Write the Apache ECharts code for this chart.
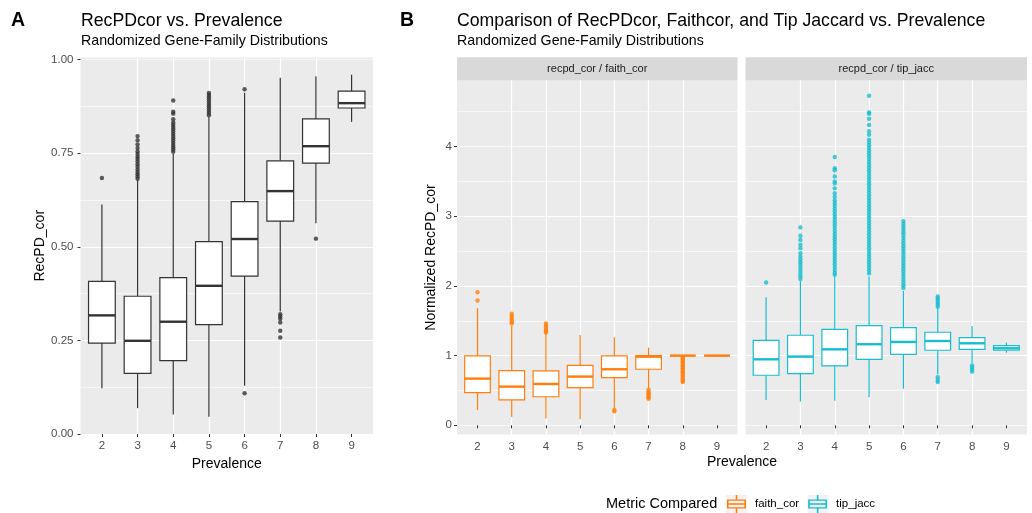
<!DOCTYPE html>
<html><head><meta charset="utf-8">
<script src="https://cdn.jsdelivr.net/npm/echarts@6/dist/echarts.min.js"></script>
<style>html,body{margin:0;padding:0;background:#fff}#c{width:1032px;height:513px}</style>
</head><body><div id="c"></div>
<script>
// ---------- data ----------
const prevalence = [2, 3, 4, 5, 6, 7, 8, 9];
const recpdTicks = [0, 0.25, 0.5, 0.75, 1];
const normTicks = [0, 1, 2, 3, 4];
// [lower whisker, Q1, median, Q3, upper whisker]
const recpdStats = [
  [0.122, 0.243, 0.317, 0.408, 0.613],
  [0.069, 0.162, 0.249, 0.368, 0.678],
  [0.052, 0.196, 0.300, 0.418, 0.749],
  [0.046, 0.292, 0.396, 0.514, 0.848],
  [0.129, 0.422, 0.521, 0.621, 0.912],
  [0.327, 0.569, 0.649, 0.730, 0.952],
  [0.563, 0.724, 0.769, 0.842, 0.956],
  [0.834, 0.871, 0.884, 0.916, 0.960]
];
const recpdOutliers = [
  [0.684],
  [0.796, 0.785, 0.774, 0.764, 0.755, 0.748, 0.741, 0.735, 0.728, 0.721, 0.714, 0.707, 0.700, 0.694, 0.688, 0.682],
  [0.891, 0.861, 0.856, 0.841, 0.832, 0.826, 0.820, 0.814, 0.808, 0.802, 0.796, 0.790, 0.784, 0.778, 0.772, 0.766, 0.760, 0.754],
  [0.911, 0.906, 0.900, 0.894, 0.888, 0.882, 0.876, 0.870, 0.864, 0.858, 0.852],
  [0.921, 0.109],
  [0.320, 0.314, 0.308, 0.298, 0.276, 0.258],
  [0.522],
  []
];
const faithStats = [
  [0.22, 0.469, 0.670, 0.995, 1.68],
  [0.12, 0.364, 0.555, 0.785, 1.43],
  [0.096, 0.41, 0.593, 0.78, 1.32],
  [0.086, 0.54, 0.699, 0.861, 1.297],
  [0.244, 0.684, 0.804, 0.995, 1.263],
  [0.53, 0.804, 0.985, 1.0, 1.115],
  [0.99, 1.0, 1.0, 1.0, 1.0],
  [1.0, 1.0, 1.0, 1.0, 1.0]
];
const faithOutliers = [
  [1.91, 1.79],
  [1.60, 1.57, 1.54, 1.51, 1.48, 1.46],
  [1.46, 1.43, 1.40, 1.37, 1.35, 1.33],
  [],
  [0.22, 0.20],
  [0.51, 0.48, 0.46, 0.44, 0.42, 0.40, 0.38],
  [0.98, 0.96, 0.94, 0.92, 0.90, 0.88, 0.86, 0.84, 0.82, 0.80, 0.78, 0.76, 0.74, 0.72, 0.69, 0.66, 0.64, 0.62],
  []
];
const tipStats = [
  [0.364, 0.718, 0.947, 1.22, 1.837],
  [0.34, 0.742, 0.986, 1.292, 2.07],
  [0.354, 0.852, 1.09, 1.378, 2.14],
  [0.402, 0.947, 1.163, 1.431, 2.14],
  [0.526, 1.019, 1.196, 1.402, 1.93],
  [0.73, 1.077, 1.21, 1.335, 1.68],
  [0.89, 1.091, 1.177, 1.258, 1.426],
  [1.043, 1.077, 1.105, 1.144, 1.187]
];
const tipOutliers = [
  [2.05],
  [2.84, 2.72, 2.66, 2.59, 2.54, 2.47, 2.42, 2.38, 2.34, 2.30, 2.26, 2.22, 2.18, 2.14, 2.10],
  [3.85, 3.69, 3.66, 3.57, 3.50, 3.47, 3.40, 3.33, 3.28, 3.23, 3.19, 3.15, 3.11, 3.07, 3.03, 2.99, 2.95, 2.91, 2.87, 2.83, 2.79, 2.75, 2.71, 2.67, 2.63, 2.59, 2.55, 2.51, 2.47, 2.43, 2.39, 2.35, 2.31, 2.27, 2.23, 2.19, 2.16],
  [4.73, 4.49, 4.47, 4.40, 4.31, 4.22, 4.17, 4.10, 4.06, 4.02, 3.98, 3.94, 3.90, 3.86, 3.82, 3.78, 3.74, 3.70, 3.66, 3.62, 3.58, 3.54, 3.50, 3.46, 3.42, 3.38, 3.34, 3.30, 3.26, 3.22, 3.18, 3.14, 3.10, 3.06, 3.02, 2.98, 2.94, 2.90, 2.86, 2.82, 2.78, 2.74, 2.70, 2.66, 2.62, 2.58, 2.54, 2.50, 2.46, 2.42, 2.38, 2.34, 2.30, 2.26, 2.22, 2.18],
  [2.93, 2.89, 2.85, 2.81, 2.77, 2.73, 2.69, 2.65, 2.61, 2.57, 2.53, 2.49, 2.45, 2.41, 2.37, 2.33, 2.29, 2.25, 2.21, 2.17, 2.13, 2.09, 2.05, 2.01, 1.97],
  [1.85, 1.82, 1.79, 1.76, 1.73, 1.70, 0.69, 0.65, 0.62],
  [0.86, 0.83, 0.80, 0.77],
  []
];

// ---------- styling ----------
const FONT = '"Liberation Sans", Arial, Helvetica, sans-serif';
const DARK = '#333333';
const ORANGE = '#FF7F0E';
const TEAL = '#17BECF';
const PANEL = '#EBEBEB';

function boxData(stats) { return prevalence.map((p, i) => [p].concat(stats[i])); }
function outData(outs) {
  const r = [];
  outs.forEach((vals, i) => vals.forEach(v => r.push([prevalence[i], v])));
  return r;
}
function boxRenderer(color, lw, boxW) {
  return function (params, api) {
    const x = api.value(0);
    const lo = api.coord([x, api.value(1)]);
    const q1 = api.coord([x, api.value(2)]);
    const md = api.coord([x, api.value(3)]);
    const q3 = api.coord([x, api.value(4)]);
    const hi = api.coord([x, api.value(5)]);
    const w = api.size([boxW, 0])[0];
    const cx = lo[0];
    return {
      type: 'group', children: [
        { type: 'line', shape: { x1: cx, y1: q1[1], x2: cx, y2: lo[1] }, style: { stroke: color, lineWidth: lw } },
        { type: 'line', shape: { x1: cx, y1: q3[1], x2: cx, y2: hi[1] }, style: { stroke: color, lineWidth: lw } },
        { type: 'rect', shape: { x: cx - w / 2, y: q3[1], width: w, height: q1[1] - q3[1] }, style: { fill: '#fff', stroke: color, lineWidth: lw } },
        { type: 'line', shape: { x1: cx - w / 2, y1: md[1], x2: cx + w / 2, y2: md[1] }, style: { stroke: color, lineWidth: lw * 2 } }
      ]
    };
  };
}

function xAxisCfg(gridIndex, name) {
  return {
    type: 'value', gridIndex: gridIndex, min: 1.4, max: 9.6, minInterval: 1, maxInterval: 1,
    name: name || '', nameLocation: 'middle', nameGap: 21,
    nameTextStyle: { fontFamily: FONT, fontSize: 14, color: '#000' },
    axisLine: { show: false },
    axisTick: { show: true, length: 3, customValues: prevalence, lineStyle: { color: DARK, width: 1 } },
    axisLabel: { customValues: prevalence, color: '#4D4D4D', fontFamily: FONT, fontSize: 11.5, margin: 6 },
    splitLine: { show: true, showMinLine: false, showMaxLine: false, lineStyle: { color: '#fff', width: 1.2 } }
  };
}
function yMajor(gridIndex, min, max, step, ticks, fmt, showLabels, name, nameGap, margin) {
  return {
    type: 'value', gridIndex: gridIndex, min: min, max: max, minInterval: step, maxInterval: step,
    position: 'left',
    name: name || '', nameLocation: 'middle', nameGap: nameGap || 30,
    nameTextStyle: { fontFamily: FONT, fontSize: 14, color: '#000' },
    axisLine: { show: false },
    axisTick: { show: showLabels, length: 3, customValues: ticks, lineStyle: { color: DARK, width: 1 } },
    axisLabel: { show: showLabels, customValues: ticks, formatter: fmt, color: '#4D4D4D', fontFamily: FONT, fontSize: 11.5, margin: margin || 6 },
    splitLine: { show: true, showMinLine: false, showMaxLine: false, lineStyle: { color: '#fff', width: 1.2 } }
  };
}
function yMinor(gridIndex, min, max, step) {
  return {
    type: 'value', gridIndex: gridIndex, min: min, max: max, minInterval: step, maxInterval: step,
    position: 'right',
    axisLine: { show: false }, axisTick: { show: false }, axisLabel: { show: false },
    splitLine: { show: true, showMinLine: false, showMaxLine: false, lineStyle: { color: '#fff', width: 0.6 } }
  };
}

const boxIcon = 'path://M1,5L19,5L19,15L1,15Z M2.5,6.5L2.5,13.5L17.5,13.5L17.5,6.5Z M2.5,9.2L17.5,9.2L17.5,10.8L2.5,10.8Z M9.25,0L10.75,0L10.75,5L9.25,5Z M9.25,15L10.75,15L10.75,20L9.25,20Z';

function txt(text, x, y, size, opts) {
  opts = opts || {};
  return {
    type: 'text', x: x, y: y, silent: true,
    style: {
      text: text, fill: opts.color || '#000',
      font: (opts.bold ? 'bold ' : '') + size + 'px ' + FONT,
      align: opts.align || 'left', verticalAlign: 'middle',
      textAlign: opts.align || 'left', textVerticalAlign: 'middle'
    }
  };
}

const chart = echarts.init(document.getElementById('c'), null, { renderer: 'canvas' });
chart.setOption({
  animation: false,
  backgroundColor: '#fff',
  grid: [
    { left: 80.5, top: 57.5, width: 292.5, height: 376.5, show: true, backgroundColor: PANEL, borderWidth: 0 },
    { left: 457, top: 80.5, width: 280.5, height: 354, show: true, backgroundColor: PANEL, borderWidth: 0 },
    { left: 745.5, top: 80.5, width: 281.5, height: 354, show: true, backgroundColor: PANEL, borderWidth: 0 }
  ],
  xAxis: [xAxisCfg(0, 'Prevalence'), xAxisCfg(1), xAxisCfg(2)],
  yAxis: [
    yMajor(0, 0, 1.006, 0.25, recpdTicks, v => v.toFixed(2), true, 'RecPD_cor', 33, 7),
    yMinor(0, 0, 1.006, 0.125),
    yMajor(1, -0.132, 4.948, 1, normTicks, v => String(v), true, 'Normalized RecPD_cor', 19, 5),
    yMinor(1, -0.132, 4.948, 0.5),
    yMajor(2, -0.132, 4.948, 1, normTicks, v => String(v), false),
    yMinor(2, -0.132, 4.948, 0.5)
  ],
  legend: {
    data: ['faith_cor', 'tip_jacc'], left: 727, top: 495, orient: 'horizontal', padding: 0,
    itemWidth: 19, itemHeight: 18, itemGap: 9, icon: boxIcon, symbolKeepAspect: false, selectedMode: false,
    itemStyle: { borderWidth: 0 },
    textStyle: { fontFamily: FONT, fontSize: 11.5, color: '#000', padding: [0, 0, 0, 4] }
  },
  graphic: [
    txt('A', 11, 20.5, 19.5, { bold: true }),
    txt('RecPDcor vs. Prevalence', 81, 20.8, 17.7),
    txt('Randomized Gene-Family Distributions', 81, 41.3, 14.2),
    txt('B', 400, 20.5, 19.5, { bold: true }),
    txt('Comparison of RecPDcor, Faithcor, and Tip Jaccard vs. Prevalence', 457, 20.8, 17.7),
    txt('Randomized Gene-Family Distributions', 457, 41.3, 14.2),
    { type: 'rect', silent: true, shape: { x: 457, y: 57.3, width: 280.5, height: 23.2 }, style: { fill: '#D9D9D9' } },
    { type: 'rect', silent: true, shape: { x: 745.5, y: 57.3, width: 281.5, height: 23.2 }, style: { fill: '#D9D9D9' } },
    txt('recpd_cor / faith_cor', 597.25, 69, 11, { align: 'center', color: '#1A1A1A' }),
    txt('recpd_cor / tip_jacc', 886.25, 69, 11, { align: 'center', color: '#1A1A1A' }),
    txt('Prevalence', 742, 462, 14, { align: 'center' }),
    txt('Metric Compared', 606, 504, 14.5),
    { type: 'rect', silent: true, z: -1, shape: { x: 726, y: 495, width: 21, height: 18 }, style: { fill: '#F2F2F2' } },
    { type: 'rect', silent: true, z: -1, shape: { x: 807.5, y: 495, width: 21, height: 18 }, style: { fill: '#F2F2F2' } }
  ],
  series: [
    { type: 'scatter', name: 'recpd outliers', xAxisIndex: 0, yAxisIndex: 0, data: outData(recpdOutliers), symbol: 'circle', symbolSize: 4.4, itemStyle: { color: DARK }, silent: true, z: 1 },
    { type: 'custom', name: 'recpd_cor', xAxisIndex: 0, yAxisIndex: 0, data: boxData(recpdStats), encode: { x: 0, y: [1, 2, 3, 4, 5] }, renderItem: boxRenderer(DARK, 1.2, 0.75), itemStyle: { color: DARK }, silent: true, z: 2 },
    { type: 'scatter', name: 'faith outliers', xAxisIndex: 1, yAxisIndex: 2, data: outData(faithOutliers), symbol: 'circle', symbolSize: 4.4, itemStyle: { color: ORANGE }, silent: true, z: 1 },
    { type: 'custom', name: 'faith_cor', xAxisIndex: 1, yAxisIndex: 2, data: boxData(faithStats), encode: { x: 0, y: [1, 2, 3, 4, 5] }, renderItem: boxRenderer(ORANGE, 1.2, 0.75), itemStyle: { color: ORANGE }, silent: true, z: 2 },
    { type: 'scatter', name: 'tip outliers', xAxisIndex: 2, yAxisIndex: 4, data: outData(tipOutliers), symbol: 'circle', symbolSize: 4.4, itemStyle: { color: TEAL }, silent: true, z: 1 },
    { type: 'custom', name: 'tip_jacc', xAxisIndex: 2, yAxisIndex: 4, data: boxData(tipStats), encode: { x: 0, y: [1, 2, 3, 4, 5] }, renderItem: boxRenderer(TEAL, 1.2, 0.75), itemStyle: { color: TEAL }, silent: true, z: 2 }
  ]
});
</script></body></html>
